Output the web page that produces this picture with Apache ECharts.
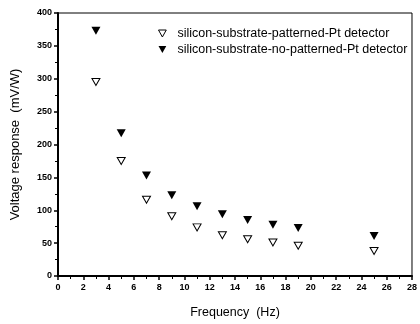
<!DOCTYPE html>
<html>
<head>
<meta charset="utf-8">
<script src="https://cdn.jsdelivr.net/npm/echarts@6/dist/echarts.min.js"></script>
<style>
  html, body { margin: 0; padding: 0; background: #fff; }
  #main { width: 420px; height: 324px; }
</style>
</head>
<body>
<div id="main"></div>
<script>
// data
var freq = [3, 5, 7, 9, 11, 13, 15, 17, 19, 25];
var patterned = [295, 175, 116, 91, 74, 62, 56, 51, 46, 38];
var noPatterned = [373, 217, 153, 123, 106, 94, 85, 78, 73, 61];
var seriesNames = ['silicon-substrate-patterned-Pt detector', 'silicon-substrate-no-patterned-Pt detector'];

function pairs(xs, ys) {
    return xs.map(function (x, i) { return [x, ys[i]]; });
}

var myChart = echarts.init(document.getElementById('main'));

var font = 'Liberation Sans, Arial, sans-serif';
var downTri = 'path://M0,0 L10,0 L5,9 Z';

var option = {
    animation: false,
    backgroundColor: '#fff',
    grid: {
        left: 58, right: 6, top: 13, bottom: 47,
        show: true, borderColor: '#000', borderWidth: 1
    },
    legend: {
        left: 153, top: 22, orient: 'vertical',
        itemGap: 3, itemWidth: 8, itemHeight: 7,
        textStyle: { fontFamily: font, fontSize: 12.5, color: '#000', padding: [0, 0, 0, 6] },
        data: [
            { name: seriesNames[0], icon: downTri, itemStyle: { color: '#fff', borderColor: '#000', borderWidth: 1 } },
            { name: seriesNames[1], icon: downTri, itemStyle: { color: '#000', borderWidth: 0 } }
        ]
    },
    xAxis: {
        type: 'value', min: 0, max: 28, interval: 2,
        name: 'Frequency  (Hz)', nameLocation: 'middle', nameGap: 30,
        nameTextStyle: { fontFamily: font, fontSize: 12.5, color: '#000' },
        axisLine: { lineStyle: { color: '#000', width: 2 } },
        axisTick: { length: 4, lineStyle: { color: '#000', width: 1.5 } },
        minorTick: { show: true, splitNumber: 2, length: 3, lineStyle: { color: '#000' } },
        axisLabel: { fontFamily: font, fontSize: 9, fontWeight: 'bold', color: '#000', margin: 7 },
        splitLine: { show: false }
    },
    yAxis: {
        type: 'value', min: 0, max: 400, interval: 50,
        name: 'Voltage response  (mV/W)', nameLocation: 'middle', nameGap: 36,
        nameTextStyle: { fontFamily: font, fontSize: 13, color: '#000' },
        axisLine: { show: true, lineStyle: { color: '#000', width: 2 } },
        axisTick: { show: true, length: 4, lineStyle: { color: '#000', width: 1.5 } },
        minorTick: { show: true, splitNumber: 2, length: 3, lineStyle: { color: '#000' } },
        axisLabel: { fontFamily: font, fontSize: 9, fontWeight: 'bold', color: '#000', margin: 6 },
        splitLine: { show: false }
    },
    series: [
        {
            name: seriesNames[0], type: 'scatter',
            symbol: downTri, symbolSize: [8, 7],
            itemStyle: { color: '#fff', borderColor: '#000', borderWidth: 1, opacity: 1 },
            data: pairs(freq, patterned)
        },
        {
            name: seriesNames[1], type: 'scatter',
            symbol: downTri, symbolSize: [9, 8],
            itemStyle: { color: '#000', opacity: 1 },
            data: pairs(freq, noPatterned)
        }
    ]
};

myChart.setOption(option);
</script>
</body>
</html>
